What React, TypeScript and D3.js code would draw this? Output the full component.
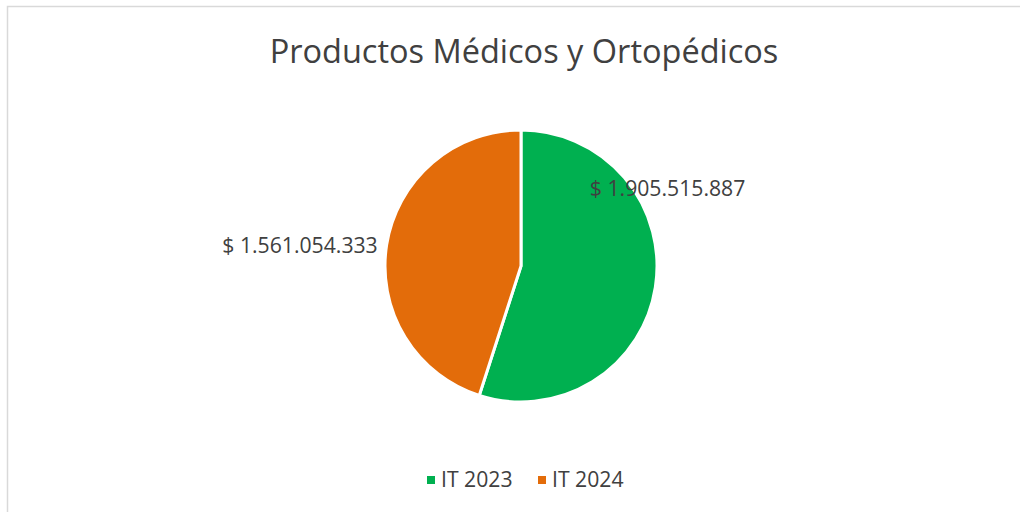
import React from "react";
import * as d3 from "d3";

const categories = ["IT 2023", "IT 2024"];
const values = [1905515887, 1561054333];
const labels = ["$ 1.905.515.887", "$ 1.561.054.333"];
const colors = ["#00B050", "#E36C0A"];
const title = "Productos Médicos y Ortopédicos";
// label placement in polar terms (degrees clockwise from top, radius in px)
const labelAngles = [62, 275.4];
const labelRadii = [166, 222];

const W = 1020;
const H = 512;
const cx = 521;
const cy = 266;
const R = 136;
const FONT = "'Open Sans', 'Noto Sans', sans-serif";

export default function App() {
  const pie = d3.pie<number>().sort(null).value((d) => d)(values);
  const arc = d3.arc<d3.PieArcDatum<number>>().innerRadius(0).outerRadius(R);
  return (
    <svg width={W} height={H} style={{ position: "absolute", left: 0, top: 0 }}>
      <rect x={0} y={0} width={W} height={H} fill="#fff" />
      <rect x={7.5} y={6.5} width={W + 20} height={H + 20} fill="#fff" stroke="#d9d9d9" strokeWidth={1.5} />
      <text x={524} y={63} textAnchor="middle" fontFamily={FONT} fontSize={32.5} fill="#404040">
        {title}
      </text>
      <g transform={`translate(${cx},${cy})`}>
        {pie.map((p, i) => (
          <path key={i} d={arc(p) || ""} fill={colors[i]} stroke="#fff" strokeWidth={3} strokeLinejoin="round" />
        ))}
        {pie.map((p, i) => {
          const a = (labelAngles[i] * Math.PI) / 180;
          const x = Math.sin(a) * labelRadii[i];
          const y = -Math.cos(a) * labelRadii[i];
          return (
            <text key={i} x={x} y={y} dy="0.35em" textAnchor="middle" fontFamily={FONT} fontSize={21.2} fill="#404040">
              {labels[i]}
            </text>
          );
        })}
      </g>
      {categories.map((c, i) => {
        const x0 = 427 + i * 111;
        return (
          <g key={c}>
            <rect x={x0} y={476} width={8} height={8} fill={colors[i]} />
            <text x={x0 + 14} y={480} dy="0.35em" fontFamily={FONT} fontSize={21.2} fill="#404040">
              {c}
            </text>
          </g>
        );
      })}
    </svg>
  );
}
